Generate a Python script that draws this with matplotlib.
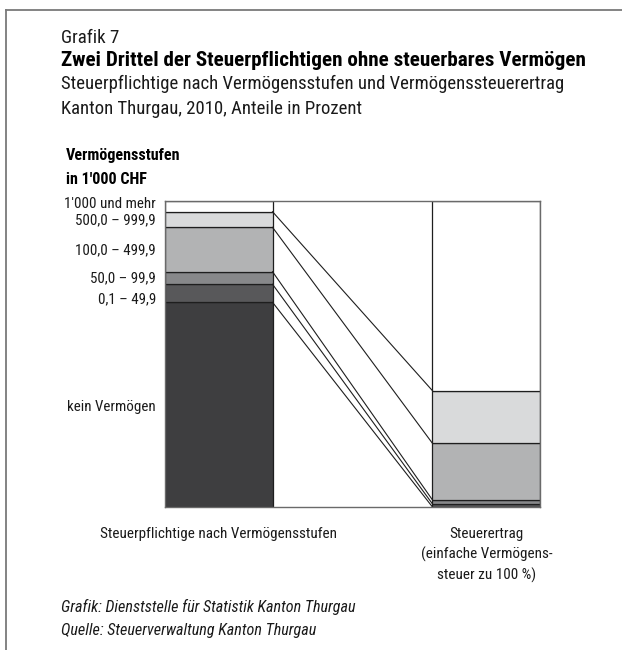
import matplotlib
matplotlib.use("Agg")
import matplotlib.pyplot as plt
from matplotlib import font_manager
from matplotlib.lines import Line2D

# ---------------- data ----------------
categories = ["kein Vermögen", "0,1 – 49,9", "50,0 – 99,9", "100,0 – 499,9",
              "500,0 – 999,9", "1'000 und mehr"]
share_taxpayers = [66.9, 5.9, 4.1, 14.5, 5.1, 3.5]   # Steuerpflichtige, %
share_revenue = [0.0, 1.0, 1.3, 18.5, 17.2, 62.0]    # Steuerertrag, %
bar_labels = ["Steuerpflichtige nach Vermögensstufen",
              "Steuerertrag\n(einfache Vermögens-\nsteuer zu 100 %)"]
colors = ["#3e3e40", "#58585a", "#87888a", "#b2b3b4", "#d9dadb", "#ffffff"]

# ---------------- fonts ----------------
avail = {f.name for f in font_manager.fontManager.ttflist}
family = "Liberation Sans"
for cand in ["Liberation Sans Narrow", "DejaVu Sans Condensed", "Roboto Condensed",
             "Liberation Sans"]:
    if cand in avail:
        family = cand
        break
plt.rcParams["font.family"] = [family, "DejaVu Sans"]

W, H = 622, 650
fig = plt.figure(figsize=(W / 100, H / 100), dpi=100)

def px(x, y):
    return x / W, 1 - y / H

def ftext(x, y, s, **kw):
    fig.text(*px(x, y), s, va="baseline", **kw)

# outer frame
fig.add_artist(Line2D([6 / W, 6 / W], [0, 1 - 10 / H], color="#7a7a7a", lw=1.3,
                      transform=fig.transFigure))
fig.add_artist(Line2D([6 / W, 1.0], [1 - 10 / H, 1 - 10 / H], color="#7a7a7a", lw=1.3,
                      transform=fig.transFigure))

# titles
ftext(61, 43, "Grafik 7", fontsize=13.6, color="#1a1a1a")
ftext(61, 66, "Zwei Drittel der Steuerpflichtigen ohne steuerbares Vermögen",
      fontsize=15.2, fontweight="bold", color="black")
ftext(61, 89, "Steuerpflichtige nach Vermögensstufen und Vermögenssteuerertrag",
      fontsize=13.5, color="#1a1a1a")
ftext(61, 114, "Kanton Thurgau, 2010, Anteile in Prozent", fontsize=13.5, color="#1a1a1a")

ftext(66, 160, "Vermögensstufen", fontsize=11.6, fontweight="bold")
ftext(66, 184, "in 1'000 CHF", fontsize=11.6, fontweight="bold")

# footer
ftext(61, 612, "Grafik: Dienststelle für Statistik Kanton Thurgau", fontsize=11.6,
      style="italic", color="#1a1a1a")
ftext(61, 635, "Quelle: Steuerverwaltung Kanton Thurgau", fontsize=11.6,
      style="italic", color="#1a1a1a")

# ---------------- axes ----------------
L, R, T, B = 165, 540, 201, 507
ax = fig.add_axes([L / W, 1 - B / H, (R - L) / W, (B - T) / H])
w = 0.402
ax.set_xlim(-w / 2, 1 + w / 2)
ax.set_ylim(0, 100)
ax.set_xticks([])
ax.set_yticks([])
for sp in ax.spines.values():
    sp.set_color("#6a6a6a")
    sp.set_linewidth(1.0)

bottom_l = 0.0
bottom_r = 0.0
for cat, vl, vr, c in zip(categories, share_taxpayers, share_revenue, colors):
    ax.bar(0, vl, width=w, bottom=bottom_l, color=c, edgecolor="#1e1e1e", linewidth=0.9)
    ax.bar(1, vr, width=w, bottom=bottom_r, color=c, edgecolor="#1e1e1e", linewidth=0.9)
    bottom_l += vl
    bottom_r += vr
    if bottom_l < 99.9:
        ax.plot([w / 2, 1 - w / 2], [bottom_l, bottom_r], color="#1e1e1e", lw=0.8)

# category labels (left of the first bar)
label_y = {"1'000 und mehr": 207.5, "500,0 – 999,9": 224.5, "100,0 – 499,9": 254.5,
           "50,0 – 99,9": 282, "0,1 – 49,9": 303, "kein Vermögen": 411}
for cat in categories:
    ftext(156, label_y[cat], cat, fontsize=10.8, ha="right", color="#1a1a1a")

# bar labels under the bars
centers = [(165 + 272.7) / 2, (433 + 540) / 2]
for cx, lab in zip(centers, bar_labels):
    for i, line in enumerate(lab.split("\n")):
        ftext(cx, 538 + i * 21, line, fontsize=10.9, ha="center", color="#1a1a1a")

fig.savefig("out.png", dpi=100)
